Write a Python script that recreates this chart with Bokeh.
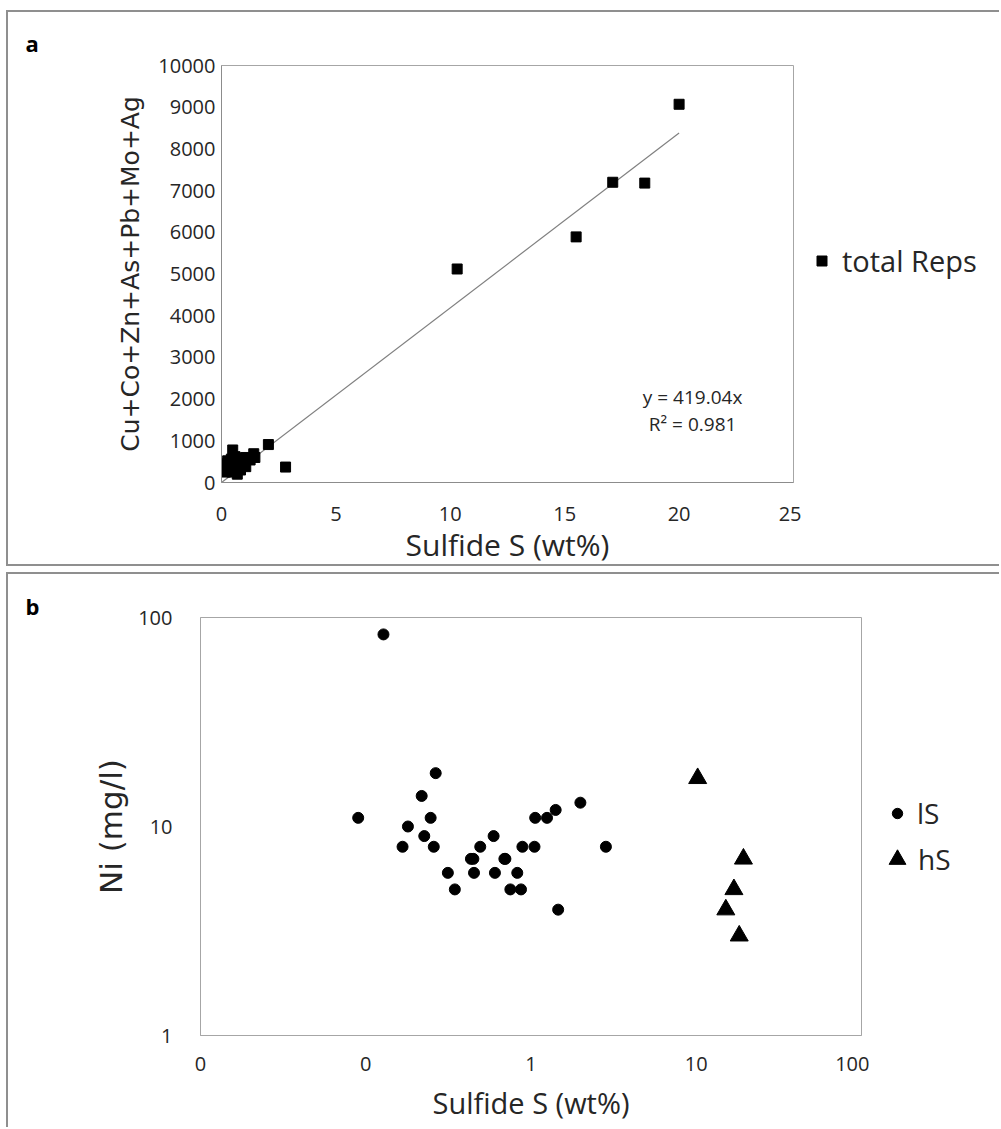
import numpy as np
from bokeh.plotting import figure
from bokeh.models import (Legend, LegendItem, FixedTicker, CustomJSTickFormatter,
                          Range1d, Title, Label)
from bokeh.layouts import column, row
from bokeh.embed import file_html
from bokeh.resources import INLINE

# ---------------- data: panel a ----------------
sulfide_s_a = [0.09, 0.13, 0.17, 0.18, 0.22, 0.23, 0.25, 0.26, 0.27, 0.31, 0.35, 0.43,
               0.45, 0.45, 0.49, 0.59, 0.61, 0.69, 0.75, 0.83, 0.87, 0.89, 1.05, 1.06,
               1.25, 1.41, 1.46, 2.05, 2.8, 10.3, 15.5, 17.1, 18.5, 20.0]
total_reps = [300, 380, 250, 420, 330, 280, 450, 360, 520, 300, 400, 560,
              250, 470, 780, 620, 350, 200, 480, 300, 560, 420, 600, 380,
              540, 690, 600, 910, 370, 5120, 5890, 7200, 7180, 9070]
trend_slope = 419.04
trend_r2 = 0.981

# ---------------- data: panel b ----------------
ls_sulfide_s = [0.128, 0.090, 0.265, 0.218, 0.247, 0.180, 0.226, 0.167, 0.258, 0.314,
                0.346, 0.433, 0.448, 0.452, 0.493, 0.594, 0.605, 0.69, 0.70, 0.75,
                0.87, 0.826, 0.887, 1.05, 1.06, 1.25, 1.41, 1.46, 1.99, 2.84]
ls_ni = [83, 11, 18, 14, 11, 10, 9, 8, 8, 6,
         5, 7, 7, 6, 8, 9, 6, 7, 7, 5,
         5, 6, 8, 8, 11, 11, 12, 4, 13, 8]
hs_sulfide_s = [10.2, 19.3, 16.9, 15.1, 18.2]
hs_ni = [17, 7, 5, 4, 3]

x_ticks_a = [0, 5, 10, 15, 20, 25]
y_ticks_a = [0, 1000, 2000, 3000, 4000, 5000, 6000, 7000, 8000, 9000, 10000]
x_ticks_b = [0.01, 0.1, 1, 10, 100]
y_ticks_b = [1, 10, 100]

TXT_FONT = "Open Sans"
AX_FONT = "DejaVu Sans"
TXT = "#262626"
FRAME = "#a6a6a6"
AXIS = "#8c8c8c"
BORDER = "2px solid #8f8f8f"

OFF_X = 8  # 6 px margin + 2 px border on the left of each panel box


def style_axes(p):
    for ax in p.xaxis + p.yaxis:
        ax.major_tick_line_color = None
        ax.minor_tick_line_color = None
        ax.axis_line_color = AXIS
        ax.major_label_text_font = TXT_FONT
        ax.major_label_text_font_size = "20px"
        ax.major_label_text_color = TXT
        ax.axis_label_text_font_style = "normal"
        ax.axis_label_text_color = TXT
    p.xgrid.visible = False
    p.ygrid.visible = False
    p.outline_line_color = FRAME
    p.outline_line_width = 1
    p.background_fill_color = "white"
    p.border_fill_color = "white"


def legend_figure(width, height, top, bottom, styles):
    # a narrow figure to the right of the chart that only carries the legend
    f = figure(width=width, height=height, output_backend="svg", toolbar_location=None,
               x_axis_type=None, y_axis_type=None, x_range=Range1d(-2, -1), y_range=Range1d(-2, -1),
               min_border_left=0, min_border_right=0, min_border_top=top,
               min_border_bottom=bottom, styles=styles)
    f.outline_line_color = None
    f.background_fill_color = "white"
    f.border_fill_color = "white"
    return f


# ---------------- panel a ----------------
A_TOP, A_BOT = 65 - 12, 568 - 482
pa = figure(width=803 - OFF_X, height=556, output_backend="svg", toolbar_location=None,
            x_range=Range1d(0, 25), y_range=Range1d(0, 10000),
            min_border_left=221 - OFF_X, min_border_right=10,
            min_border_top=A_TOP, min_border_bottom=A_BOT,
            styles={"margin-left": "6px", "margin-top": "10px",
                    "border-left": BORDER, "border-top": BORDER, "border-bottom": BORDER})
style_axes(pa)
pa.xaxis.ticker = FixedTicker(ticks=x_ticks_a)
pa.yaxis.ticker = FixedTicker(ticks=y_ticks_a)
pa.xaxis.major_label_standoff = 18
pa.yaxis.major_label_standoff = 0
pa.xaxis.axis_label = "Sulfide S (wt%)"
pa.xaxis.axis_label_text_font = TXT_FONT
pa.xaxis.axis_label_text_font_size = "30px"
pa.xaxis.axis_label_standoff = 0
pa.yaxis.axis_label = "Cu+Co+Zn+As+Pb+Mo+Ag"
pa.yaxis.axis_label_text_font = AX_FONT
pa.yaxis.axis_label_text_font_size = "25px"
pa.yaxis.axis_label_standoff = 10

xfit = [0, max(sulfide_s_a)]
yfit = [trend_slope * v for v in xfit]
pa.line(xfit, yfit, line_color="#808080", line_width=1.2)
pa.scatter(sulfide_s_a, total_reps, marker="square", size=10, fill_color="black",
           line_color="black")

pa.add_layout(Label(x=20.59, y=2062, text=f"y = {trend_slope}x", text_align="center",
                    text_baseline="middle", text_font=TXT_FONT, text_font_size="19px",
                    text_color=TXT))
pa.add_layout(Label(x=20.59, y=1391, text=f"R² = {trend_r2}", text_align="center",
                    text_baseline="middle", text_font=TXT_FONT, text_font_size="19px",
                    text_color=TXT))
pa.add_layout(Title(text="a", align="left", offset=25 - 221, standoff=15,
                    text_font=TXT_FONT, text_font_size="22px", text_font_style="bold",
                    text_color="black"), "above")

la = legend_figure(1001 - 803, 556, A_TOP, A_BOT,
                   {"margin-top": "10px", "border-top": BORDER, "border-bottom": BORDER})
sq = la.scatter(sulfide_s_a, total_reps, marker="square", size=10, fill_color="black",
                line_color="black", visible=False)
la.add_layout(Legend(items=[LegendItem(label="total Reps", renderers=[sq])],
                     location=(8, 202), padding=0, margin=0,
                     border_line_alpha=0, background_fill_alpha=0, inactive_fill_alpha=0,
                     glyph_width=25, glyph_height=25, label_standoff=8,
                     label_text_font=TXT_FONT, label_text_font_size="29px",
                     label_text_color=TXT))

# ---------------- panel b ----------------
B_TOP, B_BOT = 617 - 574, 1129 - 1035
pb = figure(width=871 - OFF_X, height=555, output_backend="svg", toolbar_location=None,
            x_axis_type="log", y_axis_type="log",
            x_range=Range1d(0.01, 100), y_range=Range1d(1, 100),
            min_border_left=200 - OFF_X, min_border_right=10,
            min_border_top=B_TOP, min_border_bottom=B_BOT,
            styles={"margin-left": "6px", "margin-top": "6px",
                    "border-left": BORDER, "border-top": BORDER})
style_axes(pb)
pb.xaxis.ticker = FixedTicker(ticks=x_ticks_b, minor_ticks=[])
pb.yaxis.ticker = FixedTicker(ticks=y_ticks_b, minor_ticks=[])
pb.xaxis.formatter = CustomJSTickFormatter(code="return tick < 1 ? '0' : tick.toFixed(0);")
pb.yaxis.formatter = CustomJSTickFormatter(code="return tick.toFixed(0);")
pb.xaxis.axis_line_color = FRAME
pb.yaxis.axis_line_color = FRAME
pb.xaxis.major_label_standoff = 15
pb.yaxis.major_label_standoff = 22
pb.xaxis.axis_label = "Sulfide S (wt%)"
pb.xaxis.axis_label_text_font = TXT_FONT
pb.xaxis.axis_label_text_font_size = "29px"
pb.xaxis.axis_label_standoff = 9
pb.yaxis.axis_label = "Ni (mg/l)"
pb.yaxis.axis_label_text_font = AX_FONT
pb.yaxis.axis_label_text_font_size = "31px"
pb.yaxis.axis_label_standoff = 6

pb.scatter(ls_sulfide_s, ls_ni, marker="circle", size=11, fill_color="black",
           line_color="black")
pb.scatter(hs_sulfide_s, hs_ni, marker="triangle", size=18, fill_color="black",
           line_color="black")
pb.add_layout(Title(text="b", align="left", offset=25 - 200, standoff=-6,
                    text_font=TXT_FONT, text_font_size="22px", text_font_style="bold",
                    text_color="black"), "above")

lb = legend_figure(1001 - 871, 555, B_TOP, B_BOT, {"margin-top": "6px", "border-top": BORDER})
lc = lb.scatter(ls_sulfide_s, ls_ni, marker="circle", size=11, fill_color="black",
                line_color="black", visible=False)
lt = lb.scatter(hs_sulfide_s, hs_ni, marker="triangle", size=18, fill_color="black",
                line_color="black", visible=False)
lb.add_layout(Legend(items=[LegendItem(label="lS", renderers=[lc])], location=(15, 203),
                     padding=0, margin=0, border_line_alpha=0, background_fill_alpha=0,
                     inactive_fill_alpha=0,
                     glyph_width=26, glyph_height=26, label_standoff=7,
                     label_text_font=TXT_FONT, label_text_font_size="28px",
                     label_text_color=TXT))
lb.add_layout(Legend(items=[LegendItem(label="hS", renderers=[lt])], location=(7, 155),
                     padding=0, margin=0, border_line_alpha=0, background_fill_alpha=0,
                     inactive_fill_alpha=0,
                     glyph_width=42, glyph_height=42, label_standoff=0,
                     label_text_font=TXT_FONT, label_text_font_size="28px",
                     label_text_color=TXT))

layout = column(row(pa, la), row(pb, lb), spacing=0)
open("out.html", "w").write(file_html(layout, INLINE))
